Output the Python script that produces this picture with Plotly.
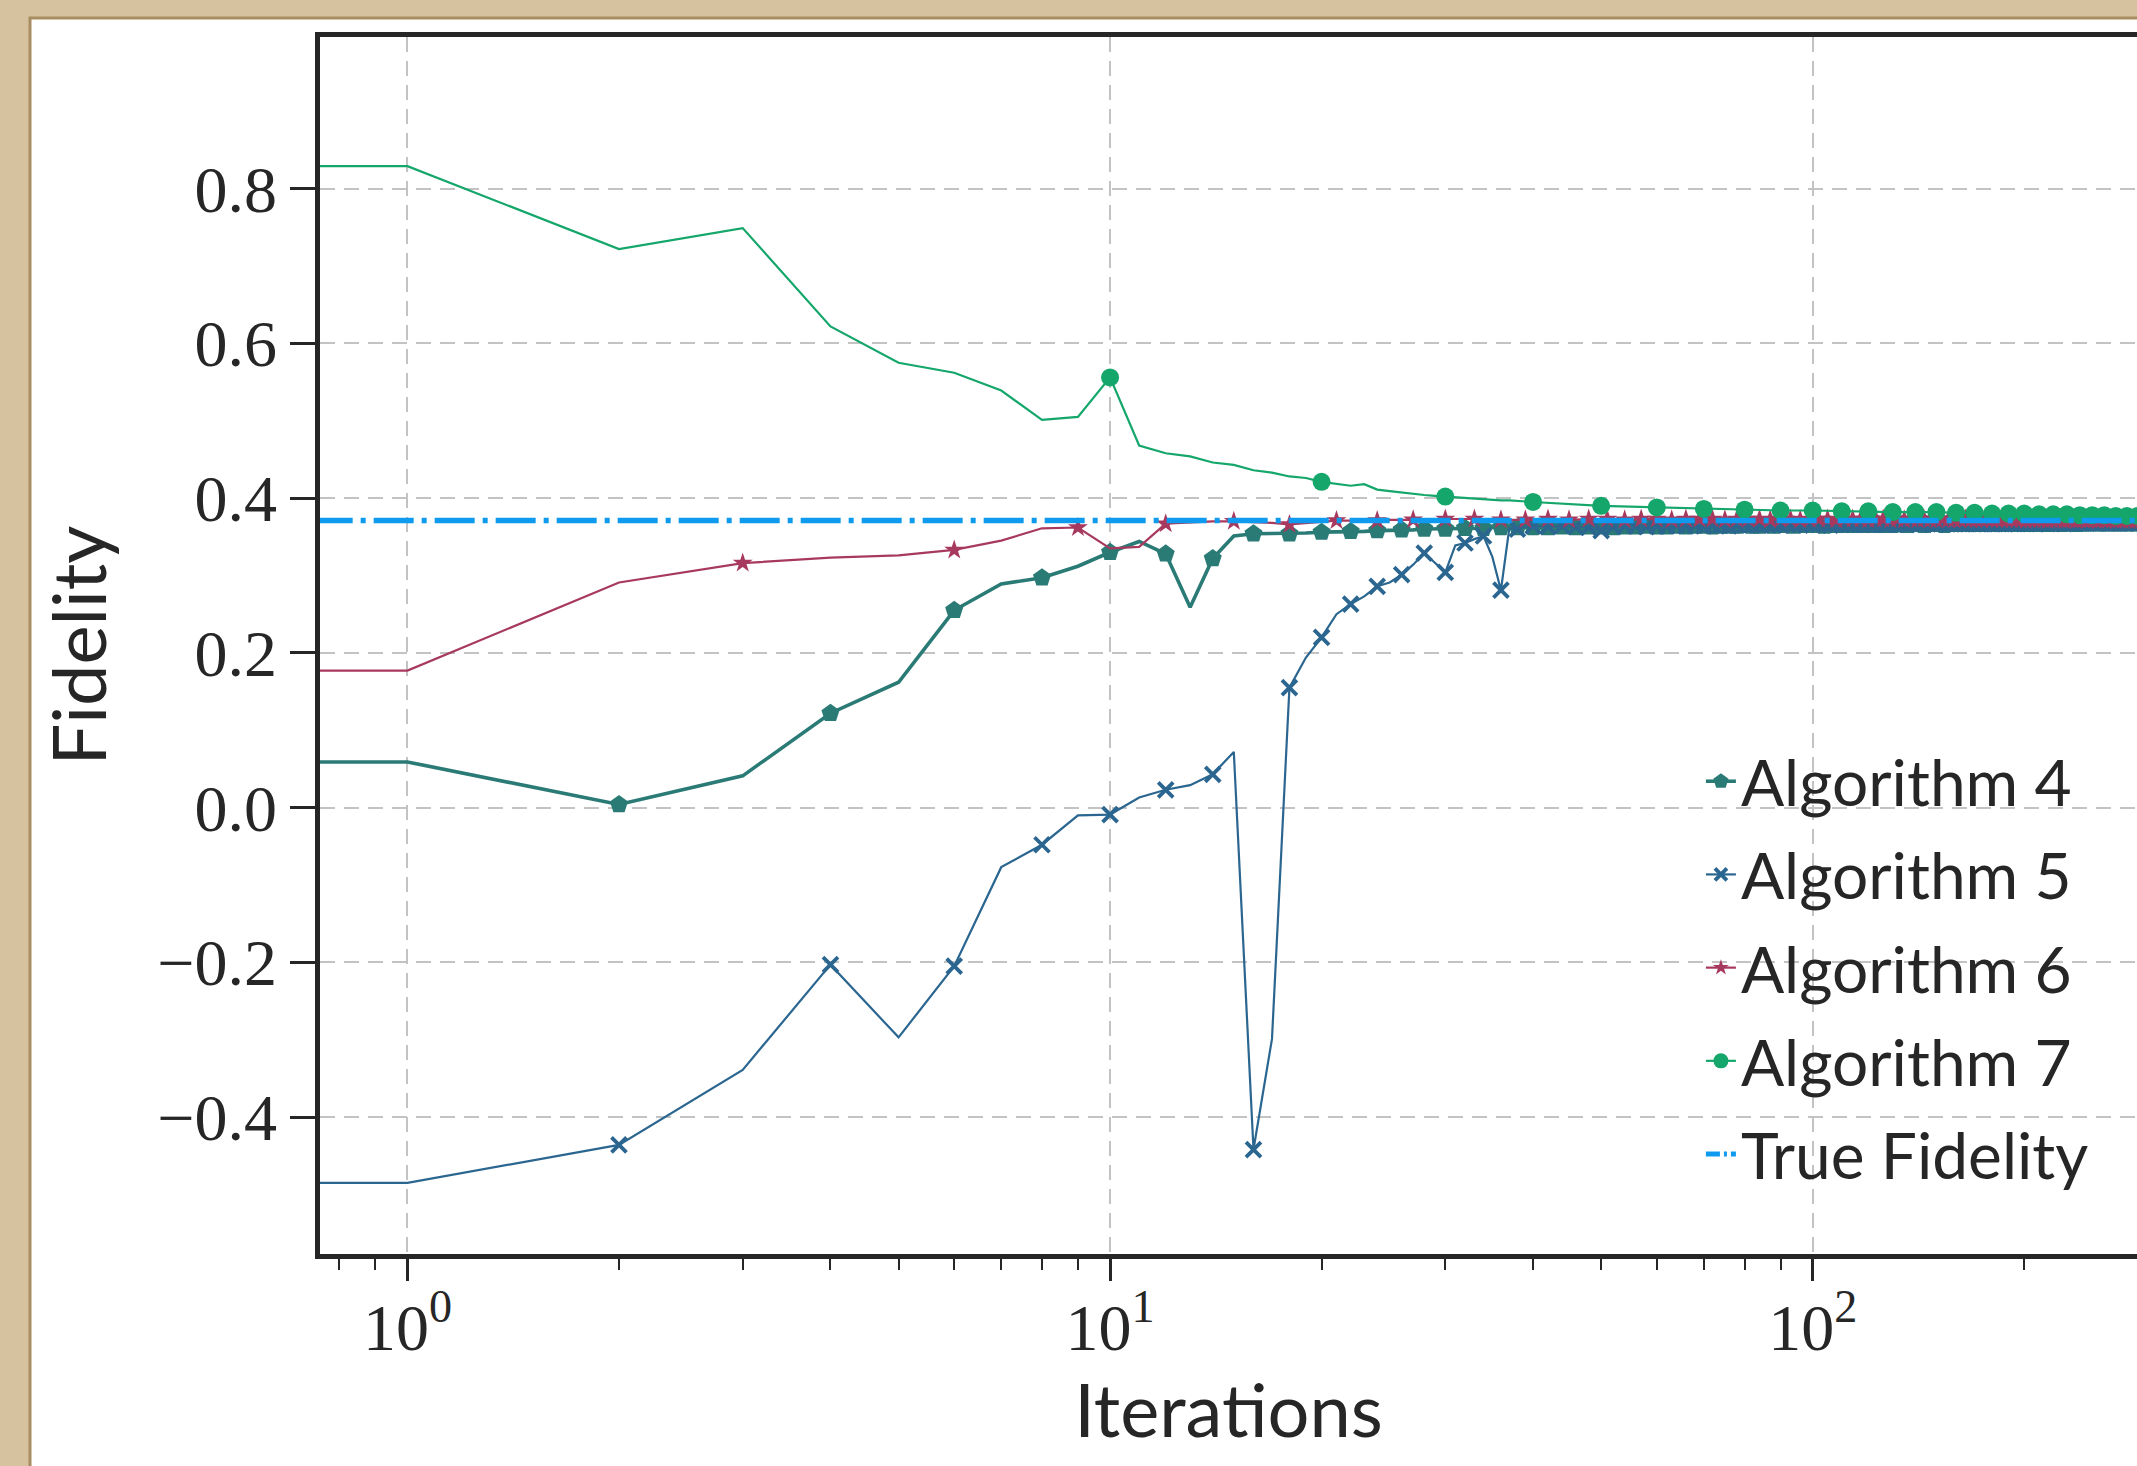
import plotly.graph_objects as go

# ---------------- data ----------------
iters_head = list(range(1, 41))

alg4_head = [0.059, 0.004, 0.041, 0.122, 0.162, 0.255, 0.289, 0.297, 0.312, 0.330,
             0.344, 0.328, 0.259, 0.322, 0.351, 0.354, 0.354, 0.354, 0.355, 0.356,
             0.356, 0.357, 0.357, 0.358, 0.358, 0.359, 0.359, 0.360, 0.360, 0.360,
             0.361, 0.361, 0.361, 0.361, 0.362, 0.362, 0.362, 0.362, 0.362, 0.362]
alg4_tail_iters = list(range(42, 301, 2))
alg4_tail = [0.362, 0.363, 0.362, 0.363, 0.363, 0.362, 0.363, 0.363, 0.364, 0.363,
             0.363, 0.364, 0.363, 0.364, 0.364, 0.363, 0.364, 0.364, 0.364, 0.365,
             0.364, 0.364, 0.365, 0.364, 0.365, 0.365, 0.364, 0.365, 0.365, 0.365,
             0.365, 0.364, 0.365, 0.365, 0.366, 0.365, 0.365, 0.365, 0.366, 0.365,
             0.365, 0.366, 0.365, 0.366, 0.365, 0.366, 0.366, 0.365, 0.366, 0.366,
             0.366, 0.365, 0.366, 0.366, 0.366, 0.366, 0.365, 0.366, 0.366, 0.366,
             0.366, 0.366, 0.367, 0.366, 0.366, 0.366, 0.366, 0.367, 0.366, 0.366,
             0.366, 0.367, 0.366, 0.366, 0.367, 0.366, 0.367, 0.366, 0.367, 0.367,
             0.366, 0.367, 0.367, 0.366, 0.367, 0.367, 0.367, 0.366, 0.367, 0.367,
             0.367, 0.367, 0.366, 0.367, 0.367, 0.367, 0.367, 0.367, 0.366, 0.367,
             0.367, 0.367, 0.367, 0.367, 0.367, 0.368, 0.367, 0.367, 0.367, 0.367,
             0.367, 0.367, 0.368, 0.367, 0.367, 0.367, 0.367, 0.368, 0.367, 0.367,
             0.367, 0.368, 0.367, 0.367, 0.368, 0.367, 0.367, 0.368, 0.367, 0.368]

alg5_head = [-0.485, -0.436, -0.339, -0.203, -0.297, -0.205, -0.077, -0.048, -0.010, -0.009,
             0.013, 0.023, 0.029, 0.043, 0.072, -0.442, -0.299, 0.155, 0.194, 0.220,
             0.250, 0.263, 0.273, 0.286, 0.291, 0.301, 0.314, 0.329, 0.316, 0.304,
             0.339, 0.342, 0.347, 0.351, 0.324, 0.281, 0.361, 0.360, 0.363, 0.364]
alg5_tail_iters = list(range(42, 301, 2))
alg5_tail = [0.363, 0.364, 0.363, 0.362, 0.358, 0.363, 0.364, 0.364, 0.363, 0.364,
             0.364, 0.365, 0.364, 0.365, 0.364, 0.365, 0.365, 0.364, 0.365, 0.365,
             0.365, 0.365, 0.366, 0.365, 0.365, 0.366, 0.365, 0.366, 0.366, 0.365,
             0.366, 0.366, 0.365, 0.366, 0.366, 0.366, 0.366, 0.367, 0.366, 0.366,
             0.366, 0.367, 0.366, 0.366, 0.367, 0.366, 0.367, 0.366, 0.367, 0.367,
             0.366, 0.367, 0.367, 0.367, 0.366, 0.367, 0.367, 0.367, 0.367, 0.367,
             0.367, 0.367, 0.367, 0.368, 0.367, 0.367, 0.367, 0.367, 0.368, 0.367,
             0.367, 0.368, 0.367, 0.367, 0.368, 0.367, 0.368, 0.367, 0.368, 0.368,
             0.367, 0.368, 0.368, 0.367, 0.368, 0.368, 0.368, 0.367, 0.368, 0.368,
             0.368, 0.368, 0.368, 0.367, 0.368, 0.368, 0.368, 0.368, 0.368, 0.368,
             0.368, 0.368, 0.368, 0.369, 0.368, 0.368, 0.368, 0.368, 0.368, 0.369,
             0.368, 0.368, 0.368, 0.369, 0.368, 0.368, 0.368, 0.369, 0.368, 0.368,
             0.369, 0.368, 0.368, 0.369, 0.368, 0.368, 0.369, 0.368, 0.368, 0.369]

alg6_head = [0.177, 0.291, 0.316, 0.323, 0.326, 0.333, 0.345, 0.361, 0.362, 0.335,
             0.337, 0.367, 0.369, 0.370, 0.370, 0.369, 0.368, 0.366, 0.368, 0.370,
             0.371, 0.371, 0.371, 0.371, 0.372, 0.372, 0.372, 0.373, 0.373, 0.373,
             0.373, 0.373, 0.373, 0.373, 0.373, 0.372, 0.372, 0.372, 0.372, 0.372]
alg6_tail_iters = list(range(42, 301, 3))
alg6_tail = [0.373, 0.372, 0.373, 0.373, 0.372, 0.373, 0.373, 0.372, 0.373, 0.373,
             0.373, 0.372, 0.373, 0.373, 0.373, 0.372, 0.373, 0.373, 0.372, 0.373,
             0.373, 0.373, 0.372, 0.373, 0.373, 0.373, 0.372, 0.373, 0.373, 0.372,
             0.373, 0.372, 0.373, 0.372, 0.373, 0.372, 0.372, 0.373, 0.372, 0.372,
             0.372, 0.373, 0.372, 0.372, 0.372, 0.373, 0.372, 0.372, 0.372, 0.372,
             0.372, 0.372, 0.372, 0.371, 0.372, 0.372, 0.372, 0.372, 0.371, 0.372,
             0.372, 0.372, 0.371, 0.372, 0.372, 0.371, 0.372, 0.372, 0.371, 0.372,
             0.372, 0.371, 0.372, 0.371, 0.372, 0.372, 0.371, 0.372, 0.371, 0.372,
             0.371, 0.372, 0.371, 0.372, 0.371, 0.371, 0.372]

alg7_head = [0.829, 0.722, 0.749, 0.622, 0.575, 0.562, 0.539, 0.501, 0.505, 0.556,
             0.468, 0.458, 0.454, 0.446, 0.443, 0.436, 0.433, 0.428, 0.426, 0.421,
             0.418, 0.416, 0.418, 0.411, 0.409, 0.407, 0.406, 0.404, 0.403, 0.402,
             0.401, 0.400, 0.400, 0.399, 0.398, 0.397, 0.397, 0.396, 0.395, 0.395]
alg7_tail_iters = list(range(50, 301, 10))
alg7_tail = [0.390, 0.388, 0.386, 0.385, 0.384, 0.384, 0.383, 0.383, 0.382, 0.382,
             0.382, 0.381, 0.381, 0.380, 0.380, 0.380, 0.379, 0.379, 0.379, 0.378,
             0.378, 0.378, 0.377, 0.377, 0.377, 0.377]

true_fidelity = 0.371
true_iters = [0, 300]

y_tickvals = [-0.4, -0.2, 0.0, 0.2, 0.4, 0.6, 0.8]
y_ticktext = ["\u22120.4", "\u22120.2", "0.0", "0.2", "0.4", "0.6", "0.8"]
x_tickvals = [1, 10, 100]
x_ticktext = ["10<sup>0</sup>", "10<sup>1</sup>", "10<sup>2</sup>"]
x_minor_vals = [0.8, 0.9, 2, 3, 4, 5, 6, 7, 8, 9, 20, 30, 40, 50, 60, 70, 80, 90, 200, 300]

names = ["Algorithm 4", "Algorithm 5", "Algorithm 6", "Algorithm 7", "True Fidelity"]

# ---------------- styling ----------------
INK = "#262626"
GRID = "#c3c3c3"
TRUE_COLOR = "#0e9bef"
ZERO_ITER = 1e-3  # iteration 0 lies at -inf on a log axis (clipped like matplotlib)

series = [
    dict(name=names[0], x=iters_head + alg4_tail_iters, y=alg4_head + alg4_tail,
         color="#2a7a76", width=3.6, every=2, symbol="pentagon", msize=19, mline=0),
    dict(name=names[1], x=iters_head + alg5_tail_iters, y=alg5_head + alg5_tail,
         color="#2b6690", width=2.2, every=2, symbol="x-thin", msize=15, mline=3.8),
    dict(name=names[2], x=iters_head + alg6_tail_iters, y=alg6_head + alg6_tail,
         color="#a8395e", width=2.2, every=3, symbol="star", msize=15, mline=0),
    dict(name=names[3], x=iters_head + alg7_tail_iters, y=alg7_head + alg7_tail,
         color="#14a66a", width=2.2, every=10, symbol="circle", msize=18, mline=0),
]

fig = go.Figure()

for s in series:
    xs = [ZERO_ITER] + s["x"]
    ys = [s["y"][0]] + s["y"]
    fig.add_trace(go.Scatter(x=xs, y=ys, mode="lines", showlegend=False,
                             line=dict(color=s["color"], width=s["width"]),
                             hoverinfo="skip"))
    mx = [xx for xx in s["x"] if xx % s["every"] == 0]
    my = [yy for xx, yy in zip(s["x"], s["y"]) if xx % s["every"] == 0]
    fig.add_trace(go.Scatter(x=mx, y=my, mode="markers", showlegend=False,
                             marker=dict(symbol=s["symbol"], size=s["msize"], color=s["color"],
                                         line=dict(color=s["color"], width=s["mline"])),
                             hoverinfo="skip"))

fig.add_trace(go.Scatter(x=[ZERO_ITER if v == 0 else v for v in true_iters],
                         y=[true_fidelity] * len(true_iters), mode="lines", showlegend=False,
                         line=dict(color=TRUE_COLOR, width=5.5, dash="40px,8px,5px,8px"),
                         hoverinfo="skip"))

# legend entries
for i, s in enumerate(series):
    fig.add_trace(go.Scatter(x=[None], y=[None], mode="lines+markers", name=s["name"],
                             legendgroup=f"g{i}",
                             line=dict(color=s["color"], width=s["width"]),
                             marker=dict(symbol=s["symbol"], size=s["msize"] - 3, color=s["color"],
                                         line=dict(color=s["color"], width=s["mline"]))))
fig.add_trace(go.Scatter(x=[None], y=[None], mode="lines", name=names[4], legendgroup="g4",
                         line=dict(color=TRUE_COLOR, width=5, dash="14px,4px,3px,4px")))

# paper frame
fig.add_shape(type="rect", xref="paper", yref="paper", layer="below",
              x0=-0.1596, x1=1.02, y0=-0.19, y1=1.0156,
              fillcolor="white", line=dict(color="#a88d62", width=3))

fig.update_layout(
    width=2137, height=1466,
    margin=dict(l=320, r=0, t=37, b=212, pad=0),
    paper_bgcolor="#d6c29e",
    plot_bgcolor="white",
    font=dict(family="Lato", color=INK),
    legend=dict(x=0.76, y=0.428, xanchor="left", yanchor="top",
                bgcolor="rgba(0,0,0,0)", borderwidth=0,
                font=dict(family="Lato", size=64, color=INK),
                tracegroupgap=7, traceorder="grouped", itemwidth=30),
    xaxis=dict(type="log", range=[-0.1245, 2.4616],
               tickvals=x_tickvals, ticktext=x_ticktext,
               tickfont=dict(family="Liberation Serif", size=66, color=INK),
               ticks="outside", ticklen=22, tickwidth=2.5, tickcolor=INK,
               ticklabelstandoff=-10,
               showline=True, linecolor=INK, linewidth=4.5, mirror=True,
               showgrid=True, gridcolor=GRID, gridwidth=2, griddash="15px,9px",
               minor=dict(tickvals=x_minor_vals, ticks="outside", ticklen=11,
                          tickwidth=2, tickcolor=INK, showgrid=False),
               zeroline=False,
               title=dict(text="Iterations", font=dict(family="Lato", size=74, color=INK),
                          standoff=3)),
    yaxis=dict(range=[-0.577, 0.996],
               tickvals=y_tickvals, ticktext=y_ticktext,
               tickfont=dict(family="Liberation Serif", size=66, color=INK),
               ticks="outside", ticklen=25, tickwidth=3, tickcolor=INK,
               showline=True, linecolor=INK, linewidth=4.5, mirror=False,
               showgrid=True, gridcolor=GRID, gridwidth=2, griddash="15px,9px",
               zeroline=False,
               title=dict(text="Fidelity", font=dict(family="Lato", size=74, color=INK),
                          standoff=28)),
)

fig.write_html("out.html", config={"displayModeBar": False},
               post_script="document.body.style.margin='0';document.body.style.overflow='hidden';")
